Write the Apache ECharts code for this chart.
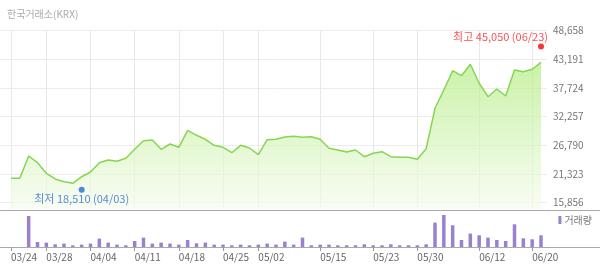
<!DOCTYPE html>
<html>
<head>
<meta charset="utf-8">
<script src="https://cdn.jsdelivr.net/npm/echarts@6/dist/echarts.min.js"></script>
<style>
html,body{margin:0;padding:0;background:#fff;}
#chart{width:600px;height:269px;}
</style>
</head>
<body>
<div id="chart"></div>
<script>
const titleText = '한국거래소(KRX)';
const categories = ['03/24','03/25','03/26','03/27','03/28','03/29','03/31','04/01','04/03','04/04',
  '04/05','04/06','04/07','04/08','04/11','04/12','04/13','04/14','04/15','04/18',
  '04/19','04/20','04/21','04/22','04/25','04/26','04/27','04/28','05/02','05/03',
  '05/04','05/06','05/09','05/10','05/11','05/15','05/16','05/17','05/18','05/19',
  '05/20','05/23','05/24','05/25','05/26','05/27','05/30','05/31','06/02','06/03',
  '06/07','06/08','06/09','06/12','06/13','06/14','06/15','06/16','06/17','06/20','06/23'];
const prices = [20510,20510,24760,23480,21460,20380,19860,19560,20810,21710,
  23480,24000,23750,24320,26040,27680,27810,26040,27050,26420,
  29660,28710,27950,26800,26420,25390,26800,26290,25010,27870,
  27950,28390,28520,28330,28440,27950,26230,25910,25520,25910,
  24630,25280,25580,24630,24510,24510,24130,26150,33860,37350,
  41030,40080,42250,38630,36070,37540,36200,41160,40840,41300,42630];
const volumes = [0,0,6200000,1000000,880000,540000,680000,340000,480000,680000,
  1680000,880000,480000,340000,1200000,1880000,680000,880000,680000,480000,
  1400000,740000,880000,480000,480000,340000,480000,340000,480000,680000,
  480000,1080000,480000,1880000,340000,480000,480000,340000,340000,340000,
  540000,340000,340000,540000,340000,340000,340000,540000,4880000,6400000,
  4340000,1400000,2680000,2340000,1880000,1400000,1200000,4540000,1740000,1540000,2340000];
const xTickLabels = ['03/24','03/28','04/04','04/11','04/18','04/25','05/02','05/15','05/23','05/30','06/12','06/20'];
const yTickLabels = ['15,856','21,323','26,790','32,257','37,724','43,191','48,658'];
const priceMin = 14654, priceMax = 48658;
const highValue = 45050, highDate = '06/23';
const lowValue = 18510, lowDate = '04/03';
const volumeName = '거래량';

const fmt = n => n.toLocaleString('en-US');
const showTick = (i, v) => xTickLabels.indexOf(v) >= 0;
const FONT = "'Noto Sans CJK KR', 'Liberation Sans', sans-serif";

const chart = echarts.init(document.getElementById('chart'), null, {renderer: 'canvas'});
chart.setOption({
  animation: false,
  backgroundColor: '#fff',
  title: {text: titleText, left: 2, top: 4, textStyle: {fontSize: 10, fontWeight: 'normal', color: '#aaa', fontFamily: FONT}},
  legend: {data: [volumeName], right: 8, top: 215, icon: 'rect', itemWidth: 3, itemHeight: 8, itemGap: 0, padding: 0,
    textStyle: {fontSize: 10, color: '#777', fontFamily: FONT, padding: [0,0,0,-2]}},
  grid: [
    {left: 0, right: 53, top: 30.7, bottom: 66.3},
    {left: 11, right: 59, top: 30.7, bottom: 60},
    {left: 0, right: 0, top: 210, bottom: 22},
    {left: 11, right: 59, top: 210, bottom: 22}
  ],
  xAxis: [
    {gridIndex: 0, type: 'value', show: false, min: 0, max: 1},
    {gridIndex: 1, type: 'category', data: categories, boundaryGap: false,
      axisLine: {show: false}, axisTick: {show: false}, axisLabel: {show: false},
      splitLine: {show: true, interval: showTick, lineStyle: {color: '#e8e8e8', width: 1}}},
    {gridIndex: 2, type: 'value', position: 'top', min: 0, max: 1,
      axisLine: {show: true, onZero: false, lineStyle: {color: '#aaa', width: 1}},
      axisTick: {show: false}, axisLabel: {show: false}, splitLine: {show: false}},
    {gridIndex: 2, type: 'value', position: 'bottom', min: 0, max: 1,
      axisLine: {show: true, onZero: false, lineStyle: {color: '#aaa', width: 1}},
      axisTick: {show: false}, axisLabel: {show: false}, splitLine: {show: false}},
    {gridIndex: 3, type: 'category', data: categories, boundaryGap: false,
      axisLine: {show: false},
      axisTick: {show: true, interval: showTick, length: 4, lineStyle: {color: '#999'}},
      axisLabel: {show: true, interval: showTick, align: 'left', margin: 5, fontSize: 10, color: '#666', fontFamily: FONT},
      splitLine: {show: false}}
  ],
  yAxis: [
    {gridIndex: 0, type: 'value', position: 'right', min: 0, max: 6, interval: 1,
      axisLine: {show: false}, axisTick: {show: false},
      axisLabel: {margin: 6, fontSize: 10, color: '#777', fontFamily: FONT, formatter: v => yTickLabels[v]},
      splitLine: {show: true, lineStyle: {color: '#ececec', width: 1}}},
    {gridIndex: 1, type: 'value', min: priceMin, max: priceMax, show: false, splitLine: {show: false}},
    {gridIndex: 2, type: 'value', show: false, min: 0, max: 1, splitLine: {show: false}},
    {gridIndex: 3, type: 'value', show: false, min: 0, max: 7400000, splitLine: {show: false}}
  ],
  series: [
    {type: 'line', name: '종가', xAxisIndex: 1, yAxisIndex: 1, data: prices, symbol: 'none', smooth: false, z: 2,
      lineStyle: {color: '#86d651', width: 1.5},
      areaStyle: {origin: 'start', color: new echarts.graphic.LinearGradient(0, 0, 0, 1, [
        {offset: 0, color: '#b3ec83'}, {offset: 1, color: '#f6fcef'}])}},
    {type: 'scatter', name: '최고', xAxisIndex: 1, yAxisIndex: 1, data: [[highDate, highValue]], z: 10,
      symbolSize: 6, symbolOffset: [0, -3], itemStyle: {color: '#f00'},
      label: {show: true, position: 'top', distance: 0, align: 'right', offset: [7, -1],
        formatter: '최고 ' + fmt(highValue) + ' (' + highDate + ')', color: '#f2272c', fontSize: 11, fontFamily: FONT}},
    {type: 'scatter', name: '최저', xAxisIndex: 1, yAxisIndex: 1, data: [[lowDate, lowValue]], z: 10,
      symbolSize: 6, symbolOffset: [0, 1], itemStyle: {color: '#1f6fd8'},
      label: {show: true, position: 'bottom', distance: 1,
        formatter: '최저 ' + fmt(lowValue) + ' (' + lowDate + ')', color: '#2f6fce', fontSize: 11, fontFamily: FONT}},
    {type: 'bar', name: volumeName, xAxisIndex: 4, yAxisIndex: 3, data: volumes, barWidth: 3.5, clip: false,
      itemStyle: {color: '#9b80d0'}}
  ]
});
</script>
</body>
</html>
